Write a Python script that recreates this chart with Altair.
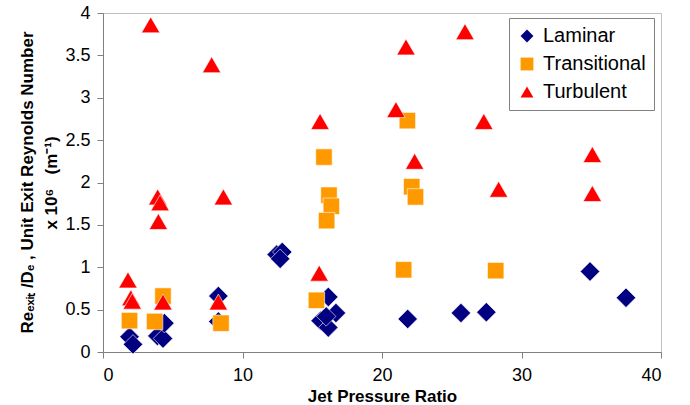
import altair as alt
import pandas as pd

series_names = ["Laminar", "Transitional", "Turbulent"]
series_colors = ["#000080", "#FF9900", "#FF0000"]
series_shapes = ["diamond", "square", "triangle-up"]
series_sizes = [380, 270, 340]

laminar_x = [1.9, 2.15, 3.9, 4.3, 4.4, 8.27, 8.27, 12.45, 12.85, 12.7, 16.15, 15.6, 16.15, 16.7, 16.0, 21.84, 25.66, 27.48, 34.91, 37.49]
laminar_y = [0.18, 0.09, 0.19, 0.16, 0.34, 0.36, 0.66, 1.15, 1.18, 1.10, 0.65, 0.37, 0.29, 0.46, 0.42, 0.39, 0.46, 0.47, 0.95, 0.64]

trans_x = [1.9, 3.7, 4.3, 8.46, 15.3, 15.84, 16.2, 16.37, 16.03, 21.55, 21.82, 22.13, 22.4, 28.15]
trans_y = [0.37, 0.36, 0.66, 0.34, 0.61, 2.30, 1.85, 1.72, 1.55, 0.97, 2.73, 1.95, 1.83, 0.96]

turb_x = [1.79, 2.0, 2.1, 3.42, 3.92, 4.09, 3.97, 4.3, 7.79, 8.63, 8.27, 15.5, 15.56, 21.0, 21.72, 22.34, 25.95, 27.3, 28.36, 35.08, 35.08]
turb_y = [0.85, 0.64, 0.60, 3.86, 1.83, 1.76, 1.54, 0.59, 3.39, 1.83, 0.59, 0.93, 2.72, 2.86, 3.60, 2.25, 3.78, 2.72, 1.92, 2.33, 1.87]

x_ticks = [0, 10, 20, 30, 40]
y_ticks = [0, 0.5, 1, 1.5, 2, 2.5, 3, 3.5, 4]

y_title_line1 = "Re\u2091\u2093\u1d62\u209c /D\u2091 , Unit Exit Reynolds Number"
y_title_line2 = "x 10\u2076\u00a0\u00a0\u00a0(m\u207b\u00b9)"

series_data = [("Laminar", laminar_x, laminar_y),
               ("Transitional", trans_x, trans_y),
               ("Turbulent", turb_x, turb_y)]

x_enc = alt.X("ratio:Q", scale=alt.Scale(domain=[0, 40], nice=False, zero=False),
              axis=alt.Axis(values=x_ticks, title="Jet Pressure Ratio", grid=False,
                            tickSize=6, labelPadding=8, labelFontSize=18,
                            titleFontSize=17, titleFontWeight="bold",
                            titleBaseline="alphabetic", titleY=49))
y_enc = alt.Y("re:Q", scale=alt.Scale(domain=[0, 4], nice=False),
              axis=alt.Axis(values=y_ticks, title=y_title_line1, grid=False, format="~g",
                            tickSize=6, labelPadding=7, labelFontSize=18,
                            titleFontSize=17, titleFontWeight="bold",
                            titleAngle=270, titleBaseline="middle", titleAlign="center",
                            titleX=-76, titleY=169))
color_enc = alt.Color("Regime:N", scale=alt.Scale(domain=series_names, range=series_colors),
                      legend=alt.Legend(title=None, orient="none", legendX=406, legendY=5,
                                        strokeColor="#808080", fillColor="#ffffff",
                                        padding=8, labelFontSize=20, rowPadding=8,
                                        symbolSize=165, symbolStrokeWidth=0,
                                        labelOffset=6))
shape_enc = alt.Shape("Regime:N", scale=alt.Scale(domain=series_names, range=series_shapes))

layers = []
for (name, xs, ys), sz in zip(series_data, series_sizes):
    d = pd.DataFrame({"Regime": name, "ratio": xs, "re": ys})
    layers.append(
        alt.Chart(d).mark_point(filled=True, opacity=1, size=sz,
                                stroke="#ffffff", strokeWidth=0.6).encode(
            x=x_enc, y=y_enc, color=color_enc, shape=shape_enc)
    )

line2 = alt.Chart(pd.DataFrame({"t": [y_title_line2]})).mark_text(
    angle=270, fontSize=17, fontWeight="bold", font="Liberation Sans",
    baseline="middle", align="center", color="#000000",
).encode(
    x=alt.value(-51), y=alt.value(170), text="t:N"
)

chart = alt.layer(*layers, line2).properties(
    width=558, height=339,
    padding={"left": 103, "top": 13, "right": 29, "bottom": 53},
    autosize=alt.AutoSizeParams(type="none"),
).configure(
    font="Liberation Sans",
).configure_axis(
    domainColor="#808080", tickColor="#808080", labelColor="#000000", titleColor="#000000",
    labelFont="Liberation Sans", titleFont="Liberation Sans",
).configure_legend(
    labelFont="Liberation Sans", labelColor="#000000",
).configure_view(
    stroke="#C0C0C0", strokeWidth=1,
)

chart.save("out.html", embed_options={"renderer": "svg", "actions": False})
